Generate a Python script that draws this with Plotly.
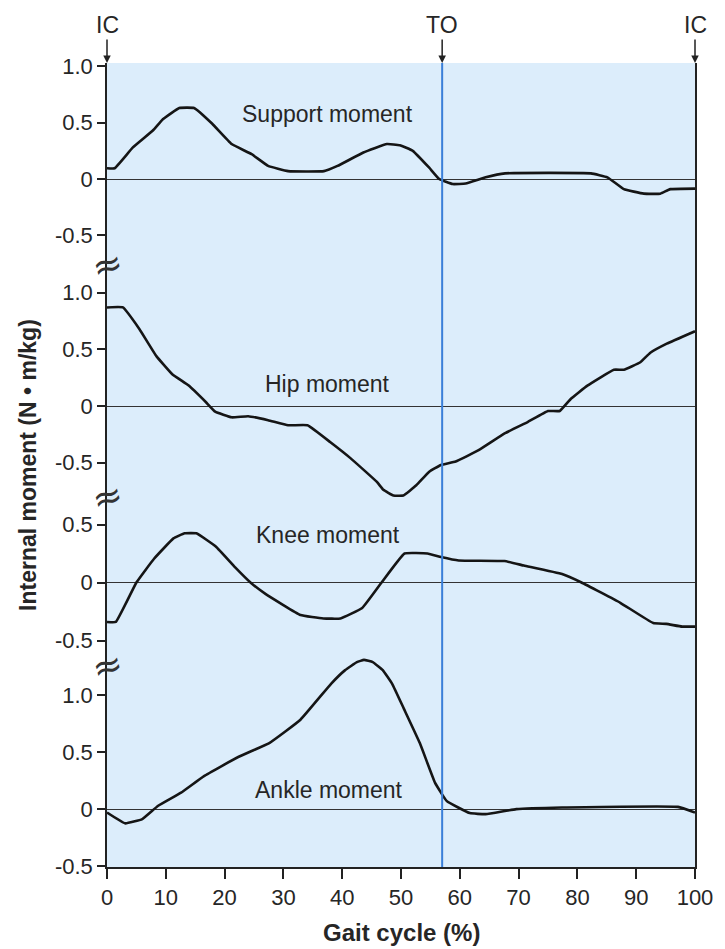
import plotly.graph_objects as go

# ---------------- data ----------------
gait_ticks = [0, 10, 20, 30, 40, 50, 60, 70, 80, 90, 100]
toe_off_pct = 57

support_x = [0, 1.3, 4.4, 7.8, 9.5, 12.3, 14.8, 17.9, 21.2, 24.6, 27.4, 30.8, 36.9, 39.2,
             43.6, 47.6, 49.8, 52, 54.8, 56.5, 58.8, 61, 64.4, 67.7, 82.3, 85.1, 87.9,
             91.3, 94.1, 95.8, 100]
support_y = [0.095, 0.095, 0.28, 0.43, 0.53, 0.63, 0.63, 0.49, 0.31, 0.22, 0.116, 0.07,
             0.07, 0.116, 0.235, 0.31, 0.30, 0.25, 0.10, 0.0, -0.045, -0.04, 0.015, 0.05,
             0.05, 0.015, -0.09, -0.13, -0.13, -0.09, -0.085]

hip_x = [0, 2.7, 5.5, 8.4, 11.1, 13.9, 16.8, 18.4, 21.2, 24, 27.4, 30.8, 34.1, 38, 41.4,
         45.9, 47, 48.7, 50.4, 52.6, 54.8, 56.8, 59.3, 63.2, 67.7, 71.6, 75, 77, 78.9,
         81.7, 86.2, 87.9, 90.7, 92.4, 95.2, 100]
hip_y = [0.87, 0.87, 0.68, 0.44, 0.28, 0.18, 0.035, -0.05, -0.1, -0.09, -0.125, -0.17,
         -0.17, -0.32, -0.46, -0.67, -0.74, -0.79, -0.79, -0.70, -0.58, -0.52, -0.49,
         -0.39, -0.24, -0.14, -0.044, -0.044, 0.064, 0.18, 0.32, 0.32, 0.386, 0.47,
         0.55, 0.66]

knee_x = [0, 1.5, 5, 8, 11.3, 13.2, 15.2, 18.5, 21.8, 24.4, 27, 32.9, 36.8, 39.7, 43.4,
          46.7, 50.6, 54.5, 56.8, 59.8, 67.6, 70.9, 77.4, 80.7, 87.3, 92.9, 95.1, 97.8, 100]
knee_y = [-0.34, -0.34, 0, 0.205, 0.38, 0.424, 0.424, 0.31, 0.13, 0, -0.10, -0.28, -0.31,
          -0.31, -0.22, 0, 0.25, 0.25, 0.22, 0.19, 0.185, 0.146, 0.073, 0, -0.175, -0.35,
          -0.357, -0.38, -0.38]

ankle_x = [0, 3.1, 6, 8.7, 12.6, 16.5, 22.4, 27.6, 32.9, 38.1, 40.5, 42.5, 43.7, 45.2,
           46.9, 48.5, 50.5, 53.2, 55.8, 57.8, 61.7, 64.4, 69.6, 77.4, 97.1, 100]
ankle_y = [-0.03, -0.125, -0.087, 0.03, 0.145, 0.29, 0.46, 0.58, 0.785, 1.1, 1.22, 1.29,
           1.31, 1.29, 1.22, 1.1, 0.88, 0.58, 0.23, 0.07, -0.035, -0.044, 0, 0.015, 0.02,
           -0.03]

panel_names = ["Support moment", "Hip moment", "Knee moment", "Ankle moment"]
panel_label_x = [37.5, 37.5, 37.6, 37.7]
panel_label_y = [0.575, 0.19, 0.41, 0.165]
panel_tickvals = [[1.0, 0.5, 0, -0.5], [1.0, 0.5, 0, -0.5], [0.5, 0, -0.5], [1.0, 0.5, 0, -0.5]]
panel_ticktext = [["1.0", "0.5", "0", "-0.5"], ["1.0", "0.5", "0", "-0.5"],
                  ["0.5", "0", "-0.5"], ["1.0", "0.5", "0", "-0.5"]]

# ---------------- layout geometry (pixels) ----------------
W, H = 725, 949
PLOT_TOP, PLOT_BOTTOM = 63, 867
PLOT_LEFT, PLOT_RIGHT = 107, 702
PH = PLOT_BOTTOM - PLOT_TOP
# per-panel zero pixel row and pixels per unit
zero_px = [179, 406, 582.5, 809.5]
scale_px = [112.7, 113.3, 116, 114.2]
bounds_px = [PLOT_TOP, 268, 500, 652, PLOT_BOTTOM + 0.5]


def paper_y(py):
    return (PLOT_BOTTOM - py) / PH


FONT = "Liberation Sans, Arial, Helvetica, sans-serif"
TXT = "#262626"
BG = "#dcedfb"

fig = go.Figure()
series = [(support_x, support_y), (hip_x, hip_y), (knee_x, knee_y), (ankle_x, ankle_y)]
for i, (xs, ys) in enumerate(series):
    fig.add_trace(go.Scatter(x=xs, y=ys, mode="lines", yaxis="y" if i == 0 else f"y{i+1}",
                             line=dict(color="#151515", width=2.6, shape="spline", smoothing=0.3),
                             showlegend=False, hoverinfo="skip"))

layout = dict(
    width=W, height=H,
    margin=dict(l=PLOT_LEFT, r=W - PLOT_RIGHT, t=PLOT_TOP, b=H - PLOT_BOTTOM, pad=0),
    paper_bgcolor="white", plot_bgcolor=BG,
    font=dict(family=FONT, color=TXT, size=22),
    xaxis=dict(range=[0, 100], tickvals=gait_ticks, ticks="outside", ticklen=10, tickwidth=1.5,
               tickcolor="#222", showline=True, linecolor="#222", linewidth=1.5, mirror=False,
               showgrid=False, zeroline=False, anchor="y4",
               tickfont=dict(size=22, family=FONT, color=TXT)),
)
for i in range(4):
    top_px, bot_px = bounds_px[i], bounds_px[i + 1]
    rng = [(zero_px[i] - bot_px) / scale_px[i], (zero_px[i] - top_px) / scale_px[i]]
    key = "yaxis" if i == 0 else f"yaxis{i+1}"
    layout[key] = dict(domain=[max(0, paper_y(bot_px)), paper_y(top_px)], range=rng, anchor="x",
                       tickvals=panel_tickvals[i], ticktext=panel_ticktext[i],
                       ticks="outside", ticklen=8, tickwidth=1.5, tickcolor="#222",
                       showline=True, linecolor="#222", linewidth=1.5, mirror=True,
                       showgrid=False, zeroline=True, zerolinecolor="#333", zerolinewidth=1.3,
                       tickfont=dict(size=22, family=FONT, color=TXT))
fig.update_layout(**layout)

# toe-off vertical line
fig.add_shape(type="line", xref="x", yref="paper", x0=toe_off_pct, x1=toe_off_pct, y0=0, y1=1,
              line=dict(color="#3a7fd8", width=2))

annotations = []
for i in range(4):
    annotations.append(dict(x=panel_label_x[i], y=panel_label_y[i], xref="x",
                            yref="y" if i == 0 else f"y{i+1}", text=panel_names[i],
                            showarrow=False, font=dict(size=23, family=FONT, color=TXT),
                            xanchor="center", yanchor="middle"))
# event markers
for xv, lab in [(0, "IC"), (toe_off_pct, "TO"), (100, "IC")]:
    annotations.append(dict(x=xv, y=1, xref="x", yref="paper", text=lab, showarrow=True,
                            ax=0, ay=-38, arrowhead=2, arrowsize=1, arrowwidth=1.5,
                            arrowcolor="#222", standoff=0, startstandoff=0,
                            font=dict(size=23, family=FONT, color=TXT)))
# axis breaks
for py in [264, 496, 665]:
    annotations.append(dict(x=0, y=paper_y(py), xref="paper", yref="paper", text="≈",
                            showarrow=False, font=dict(size=36, family="DejaVu Sans, sans-serif",
                                                       color="#333"),
                            xanchor="center", yanchor="middle", textangle=-15))
# axis titles
annotations.append(dict(x=(27 - PLOT_LEFT) / (PLOT_RIGHT - PLOT_LEFT), y=paper_y(465),
                        xref="paper", yref="paper", text="<b>Internal moment (N • m/kg)</b>",
                        showarrow=False, textangle=-90, font=dict(size=23, family=FONT, color=TXT),
                        xanchor="center", yanchor="middle"))
annotations.append(dict(x=0.5, y=paper_y(932), xref="paper", yref="paper",
                        text="<b>Gait cycle (%)</b>", showarrow=False,
                        font=dict(size=24, family=FONT, color=TXT),
                        xanchor="center", yanchor="middle"))
fig.update_layout(annotations=annotations)

fig.write_html("out.html")
